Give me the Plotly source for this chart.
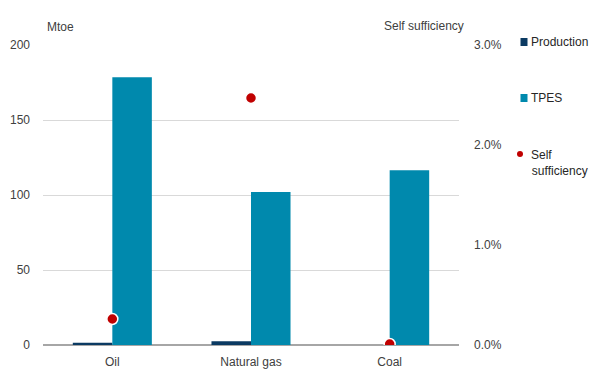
import plotly.graph_objects as go

categories = ["Oil", "Natural gas", "Coal"]
production = [1.5, 2.5, 0.0]
tpes = [178.5, 102.0, 116.5]
self_sufficiency = [0.26, 2.47, 0.01]  # percent

left_ticks = [0, 50, 100, 150, 200]
right_ticks = [0.0, 1.0, 2.0, 3.0]
right_tick_labels = ["0.0%", "1.0%", "2.0%", "3.0%"]

series_names = ["Production", "TPES", "Self<br>sufficiency"]
series_colors = ["#0B3A62", "#0089AD", "#C00000"]

font_family = "Liberation Sans, Arial, sans-serif"
text_color = "#404040"

fig = go.Figure()
fig.add_trace(go.Bar(
    x=categories, y=production, name="Production",
    marker=dict(color=series_colors[0], line=dict(width=0)),
))
fig.add_trace(go.Bar(
    x=categories, y=tpes, name="TPES",
    marker=dict(color=series_colors[1], line=dict(width=0)),
))
fig.add_trace(go.Scatter(
    x=categories, y=self_sufficiency, name="Self sufficiency",
    mode="markers", yaxis="y2",
    marker=dict(color=series_colors[2], size=11, line=dict(color="white", width=1.5)),
))

# Legend drawn by hand in the right margin (paper pixels -> fractions)
W, H = 590, 370
L, R, T, B = 43, 131, 45, 25
pw, ph = W - L - R, H - T - B


def px_x(x):
    return (x - L) / pw


def px_y(y):
    return (H - B - y) / ph


shapes = []
annotations = []
legend_rows = [42, 98, 154]
for i, (name, color, yc) in enumerate(zip(series_names, series_colors, legend_rows)):
    if i < 2:
        shapes.append(dict(type="rect", xref="paper", yref="paper",
                           x0=px_x(520.5), x1=px_x(527.5),
                           y0=px_y(yc + 4), y1=px_y(yc - 4),
                           fillcolor=color, line=dict(width=0)))
        annotations.append(dict(text=name, x=px_x(529), y=px_y(yc),
                                xref="paper", yref="paper", xanchor="left",
                                yanchor="middle", showarrow=False,
                                font=dict(size=12, color="#262626")))
    else:
        shapes.append(dict(type="circle", xref="paper", yref="paper",
                           x0=px_x(517), x1=px_x(523),
                           y0=px_y(yc + 3), y1=px_y(yc - 3),
                           fillcolor=color, line=dict(width=0)))
        annotations.append(dict(text=name.replace("<br>", "<br><span style='font-size:3px'> </span>"),
                                x=px_x(529), y=px_y(yc - 8),
                                xref="paper", yref="paper", xanchor="left",
                                yanchor="top", align="left", showarrow=False,
                                font=dict(size=12, color="#262626")))

annotations += [
    dict(text="Mtoe", x=px_x(45), y=px_y(27), xref="paper", yref="paper",
         xanchor="left", yanchor="middle", showarrow=False,
         font=dict(size=12, color=text_color)),
    dict(text="Self sufficiency", x=px_x(466), y=px_y(26), xref="paper", yref="paper",
         xanchor="right", yanchor="middle", showarrow=False,
         font=dict(size=12, color=text_color)),
]

fig.update_layout(
    width=W, height=H,
    margin=dict(l=L, r=R, t=T, b=B),
    paper_bgcolor="white", plot_bgcolor="white",
    font=dict(family=font_family, size=12, color=text_color),
    barmode="group", bargap=0.43, bargroupgap=0,
    showlegend=False,
    xaxis=dict(
        type="category", showgrid=False, ticks="", showline=False,
        automargin=False, ticklabelstandoff=8,
        tickfont=dict(size=12, color=text_color),
    ),
    yaxis=dict(
        range=[0, 200], tickvals=left_ticks, showgrid=True,
        gridcolor="#D9D9D9", gridwidth=1, zeroline=True,
        zerolinecolor="#A6A6A6", zerolinewidth=1.5, ticks="",
        automargin=False, ticklabelstandoff=12,
        tickfont=dict(size=12, color=text_color),
    ),
    yaxis2=dict(
        range=[0, 3.0], tickvals=right_ticks, ticktext=right_tick_labels,
        overlaying="y", side="right", showgrid=False, zeroline=False,
        ticks="", automargin=False, ticklabelstandoff=14,
        tickfont=dict(size=12, color=text_color),
    ),
    shapes=shapes,
    annotations=annotations,
)

fig.write_html("out.html")
